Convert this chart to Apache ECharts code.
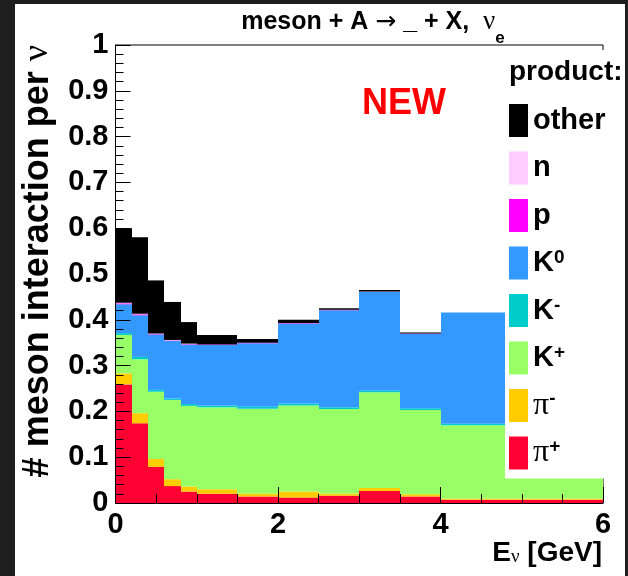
<!DOCTYPE html>
<html>
<head>
<meta charset="utf-8">
<script src="https://cdn.jsdelivr.net/npm/echarts@6/dist/echarts.min.js"></script>
<style>
html,body{margin:0;padding:0;width:628px;height:576px;background:#1e1e1e;overflow:hidden;}
#c{position:absolute;left:15px;top:4px;width:610px;height:572px;background:#fff;}
</style>
</head>
<body>
<div id="c"></div>
<script>
// Bin edges in E_nu [GeV]
const binEdges = [0, 0.2, 0.4, 0.6, 0.8, 1.0, 1.5, 2.0, 2.5, 3.0, 3.5, 4.0, 6.0];
// Contributions per bin (stacked bottom -> top)
const piPlus  = [0.259, 0.174, 0.079, 0.037, 0.025, 0.020, 0.014, 0.012, 0.016, 0.026, 0.014, 0.007];
const piMinus = [0.024, 0.022, 0.017, 0.015, 0.011, 0.010, 0.007, 0.013, 0.005, 0.007, 0.005, 0.003];
const kPlus   = [0.084, 0.118, 0.147, 0.173, 0.176, 0.179, 0.185, 0.188, 0.184, 0.209, 0.184, 0.160];
const kMinus  = [0.004, 0.005, 0.004, 0.003, 0.004, 0.004, 0.004, 0.004, 0.004, 0.003, 0.004, 0.003];
const kZero   = [0.063, 0.091, 0.121, 0.126, 0.130, 0.132, 0.139, 0.175, 0.212, 0.216, 0.162, 0.243];
const proton  = [0.002, 0.002, 0.001, 0.001, 0.001, 0.001, 0.001, 0.001, 0.001, 0.001, 0.001, 0.000];
const neutron = [0.001, 0.001, 0.001, 0.001, 0.001, 0.000, 0.000, 0.000, 0.000, 0.000, 0.000, 0.000];
const other   = [0.163, 0.167, 0.116, 0.083, 0.047, 0.021, 0.008, 0.007, 0.003, 0.003, 0.002, 0.000];

const speciesNames = ['pi+', 'pi-', 'K+', 'K-', 'K0', 'p', 'n', 'other'];
const speciesValues = [piPlus, piMinus, kPlus, kMinus, kZero, proton, neutron, other];
const speciesColors = ['#ff0033', '#ffcc00', '#99ff66', '#00cccc', '#3399ff', '#ff00ff', '#ffccff', '#000000'];
const legendOrder = ['other', 'n', 'p', 'K0', 'K-', 'K+', 'pi-', 'pi+'];
const legendLabels = {
  'other': 'other', 'n': 'n', 'p': 'p',
  'K0': 'K{sup|0}', 'K-': 'K{sup|-}', 'K+': 'K{sup|+}',
  'pi-': '{g|π}{sup|-}', 'pi+': '{g|π}{sup|+}'
};

const FONT = 'Liberation Sans, Arial, Helvetica, sans-serif';
const SERIF = 'Liberation Serif, DejaVu Serif, serif';

const cum = new Array(piPlus.length).fill(0);
const series = speciesNames.map((name, s) => {
  const data = speciesValues[s].map((v, i) => {
    const base = cum[i];
    cum[i] += v;
    return [binEdges[i], binEdges[i + 1], base, cum[i]];
  });
  return {
    name: name,
    type: 'custom',
    itemStyle: { color: speciesColors[s], borderWidth: 0 },
    encode: { x: [0, 1], y: [2, 3] },
    renderItem: function (params, api) {
      const p0 = api.coord([api.value(0), api.value(3)]);
      const p1 = api.coord([api.value(1), api.value(2)]);
      const x0 = Math.round(p0[0]), x1 = Math.round(p1[0]);
      return {
        type: 'rect',
        shape: { x: x0, y: p0[1], width: x1 - x0, height: p1[1] - p0[1] },
        style: { fill: speciesColors[s], stroke: null, lineWidth: 0 }
      };
    },
    data: data
  };
});

const chart = echarts.init(document.getElementById('c'), null, { renderer: 'canvas' });
chart.setOption({
  animation: false,
  backgroundColor: '#ffffff',
  grid: { left: 100.5, right: 22, top: 41, bottom: 73, show: true, borderColor: '#000', borderWidth: 1 },
  xAxis: {
    type: 'value', min: 0, max: 6, interval: 2, z: 10,
    axisLine: { show: true, onZero: false, lineStyle: { color: '#000', width: 1 } },
    axisTick: { show: true, inside: true, length: 16, lineStyle: { color: '#000' } },
    minorTick: { show: true, splitNumber: 4, length: 9, lineStyle: { color: '#000' } },
    splitLine: { show: false },
    minorSplitLine: { show: false },
    axisLabel: { fontFamily: FONT, fontWeight: 'bold', fontSize: 29, color: '#000', margin: 7 }
  },
  yAxis: {
    type: 'value', min: 0, max: 1, interval: 0.1, z: 10,
    axisLine: { show: true, onZero: false, lineStyle: { color: '#000', width: 1 } },
    axisTick: { show: true, inside: true, length: 15, lineStyle: { color: '#000' } },
    minorTick: { show: true, splitNumber: 5, length: 8, lineStyle: { color: '#000' } },
    splitLine: { show: false },
    minorSplitLine: { show: false },
    axisLabel: { fontFamily: FONT, fontWeight: 'bold', fontSize: 29, color: '#000', margin: 7 }
  },
  legend: {
    data: legendOrder,
    orient: 'vertical',
    left: 490, top: 46,
    padding: [54, 20, 9, 4],
    backgroundColor: '#ffffff',
    icon: 'rect',
    itemWidth: 19, itemHeight: 33, itemGap: 14.5,
    selectedMode: false,
    z: 20,
    formatter: function (name) { return legendLabels[name]; },
    textStyle: {
      fontFamily: FONT, fontWeight: 'bold', fontSize: 29, color: '#000',
      rich: {
        sup: { fontFamily: FONT, fontWeight: 'bold', fontSize: 19, color: '#000', verticalAlign: 'top' },
        g: { fontFamily: SERIF, fontWeight: 'normal', fontSize: 32, color: '#000' }
      }
    }
  },
  graphic: [
    {
      type: 'text', x: 358, y: 18, z: 30,
      style: {
        text: 'meson + A {a|→} _ + X,  {n|ν}{sub|e}',
        font: 'bold 25px ' + FONT, fill: '#000', align: 'center', verticalAlign: 'middle',
        rich: {
          a: { fontFamily: 'DejaVu Sans, sans-serif', fontWeight: 'normal', fontSize: 25, fill: '#000' },
          n: { fontFamily: SERIF, fontWeight: 'normal', fontSize: 27, fill: '#000', lineHeight: 50 },
          sub: { fontFamily: FONT, fontWeight: 'bold', fontSize: 17, fill: '#000', verticalAlign: 'bottom' }
        }
      }
    },
    {
      type: 'text', x: 389, y: 100, z: 30,
      style: { text: 'NEW', font: 'bold 36px ' + FONT, fill: '#ff0000', align: 'center', verticalAlign: 'middle' }
    },
    {
      type: 'text', x: 494, y: 68, z: 30,
      style: { text: 'product:', font: 'bold 28px ' + FONT, fill: '#000', align: 'left', verticalAlign: 'middle' }
    },
    {
      type: 'text', x: 23, y: 41, rotation: Math.PI / 2, z: 30,
      style: {
        text: '# meson interaction per {g|ν}',
        font: 'bold 36px ' + FONT, fill: '#000', align: 'right', verticalAlign: 'middle',
        rich: { g: { fontFamily: SERIF, fontWeight: 'normal', fontSize: 36, fill: '#000' } }
      }
    },
    {
      type: 'text', x: 587, y: 549, z: 30,
      style: {
        text: 'E{sub|ν} [GeV]',
        font: 'bold 28px ' + FONT, fill: '#000', align: 'right', verticalAlign: 'middle',
        rich: { sub: { fontFamily: SERIF, fontWeight: 'normal', fontSize: 19, fill: '#000', verticalAlign: 'bottom', lineHeight: 12 } }
      }
    }
  ],
  series: series
});
</script>
</body>
</html>
